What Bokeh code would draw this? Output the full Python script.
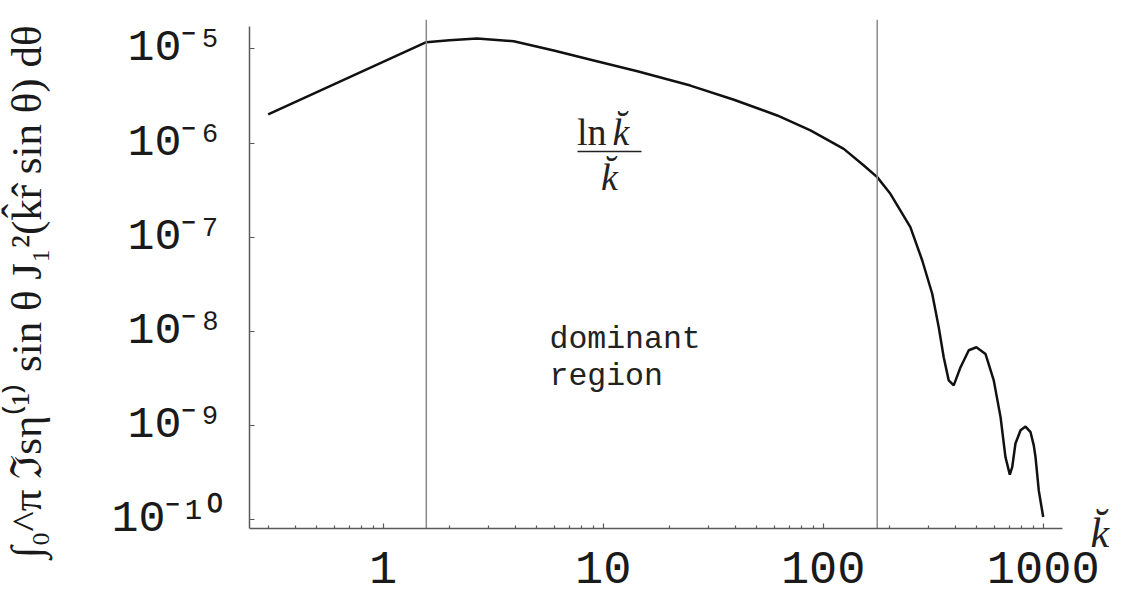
import numpy as np
from bokeh.plotting import figure
from bokeh.models import Range1d, Label, FixedTicker, CustomJSTickFormatter
from bokeh.core.properties import value
from bokeh.embed import file_html
from bokeh.resources import INLINE

# ---- data ----
k_vals = [0.3, 1.57, 2.0, 2.67, 3.92, 5.96, 9.06, 14.3, 24.9, 39.3, 61.8, 87.5,
          124, 153, 176, 202, 249, 282, 313, 335, 353, 372, 392, 421, 459, 497,
          547, 596, 640, 674, 705, 723, 748, 789, 831, 876, 906, 923, 955, 1000]
integral_vals = [2.01e-6, 1.175e-5, 1.233e-5, 1.285e-5, 1.205e-5, 9.59e-6, 7.52e-6,
                 5.78e-6, 4.07e-6, 2.88e-6, 1.96e-6, 1.36e-6, 8.67e-7, 5.77e-7,
                 4.34e-7, 2.89e-7, 1.28e-7, 5.66e-8, 2.51e-8, 1.11e-8, 5.32e-9,
                 3.02e-9, 2.67e-9, 4.17e-9, 6.31e-9, 6.79e-9, 5.75e-9, 3.02e-9,
                 1.23e-9, 4.61e-10, 3.02e-10, 3.63e-10, 6.46e-10, 8.91e-10, 9.77e-10,
                 8.51e-10, 6.17e-10, 4.61e-10, 2.04e-10, 1.07e-10]
region_bounds = [1.57, 176]
x_major_ticks = [1, 10, 100, 1000]
x_tick_labels = ["1", "10", "100", "1000"]
y_major_ticks = [1e-10, 1e-9, 1e-8, 1e-7, 1e-6, 1e-5]
y_tick_labels = ["10\u207b\u00b9\u2070", "10\u207b\u2079", "10\u207b\u2078",
                 "10\u207b\u2077", "10\u207b\u2076", "10\u207b\u2075"]
x_minor_ticks = [m * 10.0 ** e for e in range(-1, 3) for m in range(2, 10)]

y_title = ("\u00a0\u00a0\u00a0\u222b\u2080^\u03c0 \u2111s\u03b7\u207d\u00b9\u207e sin \u03b8 "
           "J\u2081\u00b2(k\u0302r\u0302 sin \u03b8) d\u03b8")

# helpers: page pixel -> data (for placement of axis bounds / annotations only)
def dx(px):
    return 10 ** ((px - 382.7) / 220.0)

def dy(py):
    return 10 ** (-5 - (py - 48.3) / 94.2)

# ---- figure ----
p = figure(width=1121, height=596, x_axis_type="log", y_axis_type="log",
           x_range=Range1d(dx(249), dx(1121)), y_range=Range1d(dy(596), dy(19)),
           output_backend="svg", toolbar_location=None,
           min_border_left=249, min_border_right=0, min_border_top=19,
           min_border_bottom=0)
p.outline_line_color = None
p.xgrid.visible = False
p.ygrid.visible = False
p.background_fill_color = "white"
p.border_fill_color = "white"

fmt_code = """
let best = 0, bd = Infinity;
for (let i = 0; i < tvals.length; i++) {
  const d = Math.abs(Math.log10(tick) - Math.log10(tvals[i]));
  if (d < bd) { bd = d; best = i; }
}
return tlabels[best];
"""

axis_gray = "#5a5a5a"
for ax in (p.xaxis[0], p.yaxis[0]):
    ax.axis_line_color = axis_gray
    ax.axis_line_width = 1.5
    ax.major_tick_line_color = axis_gray
    ax.major_tick_line_width = 1.2
    ax.minor_tick_line_color = axis_gray
    ax.minor_tick_line_width = 1.2
    ax.major_tick_in = 5
    ax.major_tick_out = 0
    ax.minor_tick_in = 3
    ax.minor_tick_out = 0
    ax.major_label_text_font = "Liberation Mono"
    ax.major_label_text_color = "#1a1a1a"

x_floor = dy(527.7)   # where the k-axis sits
xa = p.xaxis[0]
xa.fixed_location = x_floor
xa.bounds = (dx(249), dx(1062))
xa.ticker = FixedTicker(ticks=x_major_ticks, minor_ticks=x_minor_ticks)
xa.formatter = CustomJSTickFormatter(args=dict(tvals=x_major_ticks, tlabels=x_tick_labels), code=fmt_code)
xa.major_label_text_font_size = "47px"
xa.major_label_standoff = 24

ya = p.yaxis[0]
ya.bounds = (x_floor, dy(26))
ya.ticker = FixedTicker(ticks=y_major_ticks, minor_ticks=[])
ya.formatter = CustomJSTickFormatter(args=dict(tvals=y_major_ticks, tlabels=y_tick_labels), code=fmt_code)
ya.major_label_text_font_size = "45px"
ya.major_label_standoff = 26
ya.axis_label = y_title
ya.axis_label_text_font = "Liberation Serif"
ya.axis_label_text_font_style = "normal"
ya.axis_label_text_font_size = "43px"
ya.axis_label_text_color = "#1a1a1a"
ya.axis_label_standoff = 58

# ---- marks ----
p.line(k_vals, integral_vals, line_color="#111111", line_width=2.5)
p.segment(x0=region_bounds, y0=[x_floor] * len(region_bounds),
          x1=region_bounds, y1=[dy(19)] * len(region_bounds),
          line_color="#8a8a8a", line_width=1.5)

ink = "#222222"
lift = 11  # labels render this much lower than their alphabetic anchor
p.add_layout(Label(x=dx(606), y=dy(142 - lift), text="ln", text_font="Liberation Serif",
                   text_font_size="38px", text_color=ink, text_align="right",
                   text_baseline="alphabetic"))
p.add_layout(Label(x=dx(612), y=dy(142 - lift), text="k\u0306", text_font="Liberation Serif",
                   text_font_style="italic", text_font_size="38px", text_color=ink,
                   text_align="left", text_baseline="alphabetic"))
p.segment(x0=[dx(577)], y0=[dy(151)], x1=[dx(641)], y1=[dy(151)], line_color=ink, line_width=1.5)
p.add_layout(Label(x=dx(609), y=dy(187 - lift), text="k\u0306", text_font="Liberation Serif",
                   text_font_style="italic", text_font_size="38px", text_color=ink,
                   text_align="center", text_baseline="alphabetic"))
p.add_layout(Label(x=dx(549), y=dy(350 - lift), text="dominant", text_font="Liberation Mono",
                   text_font_size="31.5px", text_color=ink, text_align="left",
                   text_baseline="alphabetic"))
p.add_layout(Label(x=dx(549), y=dy(387 - lift), text="region", text_font="Liberation Mono",
                   text_font_size="31.5px", text_color=ink, text_align="left",
                   text_baseline="alphabetic"))
p.add_layout(Label(x=dx(1090), y=dy(543 - lift), text="k\u0306", text_font="Liberation Serif",
                   text_font_style="italic", text_font_size="42px", text_color=ink,
                   text_align="left", text_baseline="alphabetic"))

open("out.html", "w").write(file_html(p, INLINE))
